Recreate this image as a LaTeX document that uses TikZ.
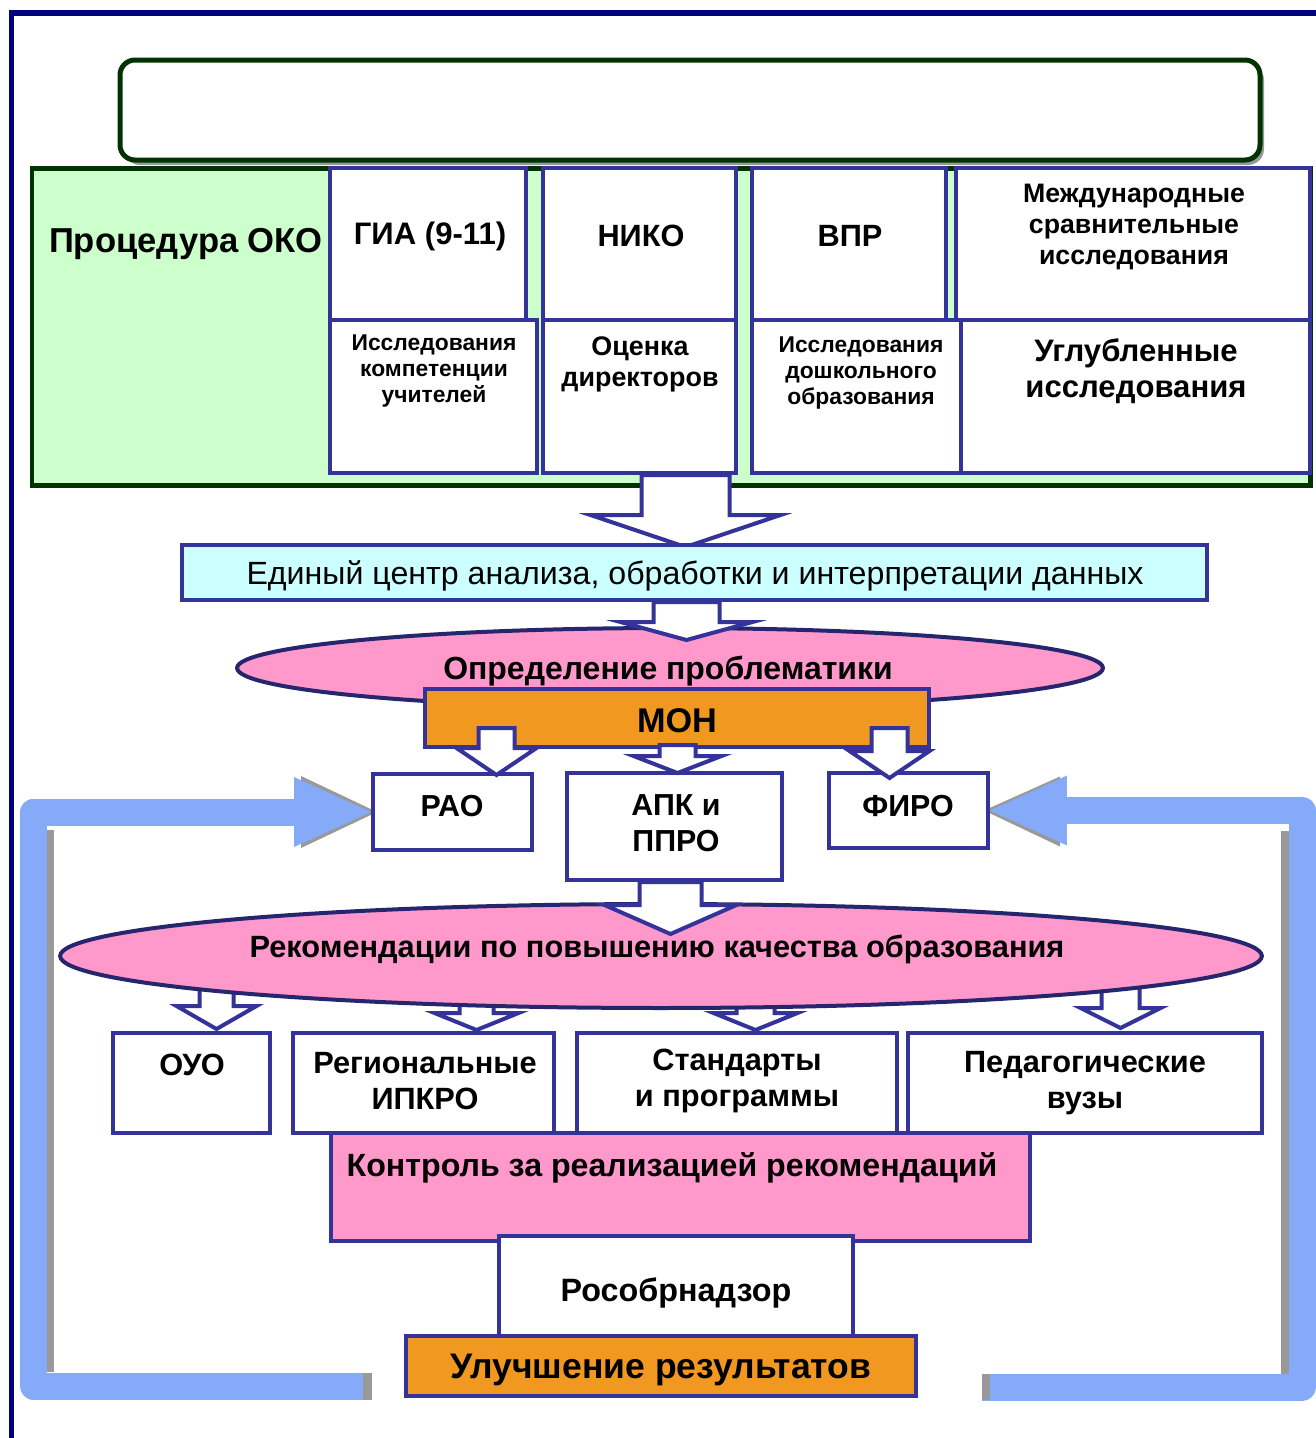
\documentclass[tikz,border=0pt]{standalone}
\usepackage{fontspec}
\setmainfont{Liberation Sans}
\usetikzlibrary{positioning,calc,fit,shapes.geometric,arrows.meta,backgrounds}

\definecolor{frameblue}{RGB}{0,0,128}
\definecolor{boxblue}{RGB}{51,51,153}
\definecolor{ovalblue}{RGB}{38,38,110}
\definecolor{okogreen}{RGB}{204,255,204}
\definecolor{darkgreen}{RGB}{0,51,0}
\definecolor{centercyan}{RGB}{204,255,255}
\definecolor{rosepink}{RGB}{255,153,204}
\definecolor{monorange}{RGB}{240,152,32}
\definecolor{loopblue}{RGB}{133,170,247}
\definecolor{shadegray}{RGB}{153,153,153}

% font size and line spacing in pt
\newcommand\fsz[2]{\fontsize{#1pt}{#2pt}\selectfont}

% hollow block arrow pointing down: from, tip, shaft half width, head half width, head length
\newcommand\blockdown[5]{%
  \path #1 coordinate (ba-from) #2 coordinate (ba-tip);
  \draw[blockarrow] ($(ba-tip |- ba-from)+(-#3,0)$) -- ($(ba-tip)+(-#3,-#5)$)
    -- ($(ba-tip)+(-#4,-#5)$) -- (ba-tip) -- ($(ba-tip)+(#4,-#5)$)
    -- ($(ba-tip)+(#3,-#5)$) -- ($(ba-tip |- ba-from)+(#3,0)$) -- cycle;}

\begin{document}
\begin{tikzpicture}[x=0.02cm, y=-0.02cm,
    box/.style={draw=boxblue, line width=0.08cm, fill=white, inner sep=0pt},
    lbl/.style={align=center, inner sep=0pt, font=\bfseries},
    oval/.style={ellipse, draw=ovalblue, line width=0.08cm, fill=rosepink, inner sep=0pt},
    blockarrow/.style={draw=boxblue, line width=0.08cm, fill=white, line join=miter},
    feedback/.style={draw=loopblue, line width=0.54cm, line join=round,
        -{Triangle[length=1.54cm, width=1.4cm, line width=0pt]}}]
    \useasboundingbox (0, 0) rectangle (1316, 1438);

    % frame
    \draw[frameblue, line width=0.11cm] (11.5, 1438) -- (11.5, 13) -- (1316, 13);

    % empty title bar
    \fill[shadegray, rounded corners=0.32cm] (124, 64) rectangle (1264, 165);
    \node[draw=darkgreen, fill=white, line width=0.1cm, rounded corners=0.3cm,
        inner sep=0pt, fit={(120, 60) (1260, 160)}] (title) {};

    % procedures
    \node[draw=darkgreen, fill=okogreen, line width=0.1cm, inner sep=0pt,
        fit={(32, 168) (1310, 485)}] (oko) {};
    \node[lbl, font=\bfseries\fsz{19.7}{22}] (oko-t) at (186, 244) {Процедура ОКО};

    \node[box, fit={(330, 168) (526, 320)}] (gia) {};
    \node[box, fit={(330, 320) (537, 473)}] (komp) {};
    \node[box, fit={(543, 168) (736, 320)}] (niko) {};
    \node[box, fit={(543, 320) (736, 473)}] (dir) {};
    \node[box, fit={(752, 168) (946, 320)}] (vpr) {};
    \node[box, fit={(752, 320) (961, 473)}] (dosh) {};
    \node[box, fit={(956, 168) (1310, 320)}] (mezh) {};
    \node[box, fit={(961, 320) (1310, 473)}] (uglub) {};

    \node[lbl, font=\bfseries\fsz{17.7}{20}] (gia-t) at (430, 236) {ГИА (9-11)};
    \node[lbl, font=\bfseries\fsz{17.5}{20}] (niko-t) at (641, 236) {НИКО};
    \node[lbl, font=\bfseries\fsz{17.5}{20}] (vpr-t) at (850, 236) {ВПР};
    \node[lbl, font=\bfseries\fsz{15.2}{17.6}] (mezh-t) at (1134, 227)
        {Международные\\сравнительные\\исследования};
    \node[lbl, font=\bfseries\fsz{13}{14.8}] (komp-t) at (434, 371)
        {Исследования\\компетенции\\учителей};
    \node[lbl, font=\bfseries\fsz{15.3}{17.6}] (dir-t) at (640, 364) {Оценка\\директоров};
    \node[lbl, font=\bfseries\fsz{13}{14.8}] (dosh-t) at (861, 373)
        {Исследования\\дошкольного\\образования};
    \node[lbl, font=\bfseries\fsz{17.7}{20.4}] (uglub-t) at (1136, 371)
        {Углубленные\\исследования};

    \blockdown{(dir.south)}{($(dir.south)+(46, 72)$)}{44}{95}{32}

    % data centre
    \node[box, fill=centercyan, fit={(182, 545) (1207, 600)}] (edin) {};
    \node[lbl, font=\fsz{18.3}{21}] (edin-t) at (695, 576)
        {Единый центр анализа, обработки и интерпретации данных};

    % problems
    \node[oval, minimum width=17.32cm, minimum height=1.6cm] (probl) at (670, 668) {};
    \node[lbl, font=\bfseries\fsz{18.2}{21}] (probl-t) at (668, 671) {Определение проблематики};
    \blockdown{(edin.south)}{($(edin.south)+(-8, 38)$)}{33}{66}{18}

    \node[box, fill=monorange, fit={(425, 689) (929, 747)}] (mon) {};
    \node[lbl, font=\bfseries\fsz{19.5}{22}] (mon-t) at (677, 721) {МОН};

    \node[box, fit={(373, 774) (532, 850)}] (rao) {};
    \node[box, fit={(567, 773) (782, 880)}] (apk) {};
    \node[box, fit={(829, 773) (988, 848)}] (firo) {};
    \node[lbl, font=\bfseries\fsz{17.3}{20.4}] (rao-t) at (452, 806) {РАО};
    \node[lbl, font=\bfseries\fsz{17.3}{20.4}] (apk-t) at (676, 823) {АПК и\\ППРО};
    \node[lbl, font=\bfseries\fsz{17.3}{20.4}] (firo-t) at (908, 806) {ФИРО};

    \blockdown{($(mon.south)+(0, -21)$)}{($(rao.north)+(44, 3)$)}{18}{40}{27}
    \blockdown{($(mon.south)+(0, -4)$)}{($(apk.north)+(3, 2)$)}{18}{44}{17}
    \blockdown{($(mon.south)+(0, -21)$)}{($(firo.north)+(-19, 7)$)}{18}{40}{27}

    % recommendations
    \blockdown{(0, 975)}{($(rao.north)+(-236, 257)$)}{17}{40}{23}
    \blockdown{(0, 995)}{($(rao.north)+(24, 258)$)}{17}{42}{17}
    \blockdown{(0, 995)}{($(apk.north)+(81, 259)$)}{19}{42}{17}
    \blockdown{(0, 975)}{($(firo.north)+(212, 257)$)}{19}{40}{20}

    \node[oval, minimum width=24.04cm, minimum height=2.08cm] (rec) at (661, 956) {};
    \node[lbl, font=\bfseries\fsz{17.5}{20}] (rec-t) at (657, 949)
        {Рекомендации по повышению качества образования};
    \blockdown{(apk.south)}{($(apk.south)+(-4, 52)$)}{31}{66}{29}

    \node[box, fit={(113, 1033) (270, 1133)}] (ouo) {};
    \node[box, fit={(293, 1033) (554, 1133)}] (reg) {};
    \node[box, fit={(577, 1033) (897, 1133)}] (std) {};
    \node[box, fit={(908, 1033) (1262, 1133)}] (ped) {};
    \node[lbl, font=\bfseries\fsz{17.5}{20.4}] (ouo-t) at (192, 1065) {ОУО};
    \node[lbl, font=\bfseries\fsz{17.5}{20.4}] (reg-t) at (425, 1081) {Региональные\\ИПКРО};
    \node[lbl, font=\bfseries\fsz{17.5}{20.4}] (std-t) at (737, 1081) {Стандарты\\и программы};
    \node[lbl, font=\bfseries\fsz{17.5}{20.4}] (ped-t) at (1085, 1083) {Педагогические\\вузы};

    % control
    \node[box, fill=rosepink, fit={(331, 1133) (1030, 1241)}] (kontr) {};
    \node[lbl, font=\bfseries\fsz{18.3}{21}] (kontr-t) at (672, 1168)
        {Контроль за реализацией рекомендаций};
    \node[box, fit={(499, 1236) (853, 1336)}] (rosobr) {};
    \node[lbl, font=\bfseries\fsz{18.4}{21}] (rosobr-t) at (676, 1293) {Рособрнадзор};
    \node[box, fill=monorange, fit={(406, 1336) (916, 1396)}] (uluch) {};
    \node[lbl, font=\bfseries\fsz{20.2}{23}] (uluch-t) at (661, 1370) {Улучшение результатов};

    % feedback loops
    \begin{pgfonlayer}{background}
        \fill[shadegray] ($(rao.west)+(-70, -36)$) -- ($(rao.west)+(6, 0)$)
            -- ($(rao.west)+(-70, 36)$) -- cycle;
        \fill[shadegray] ($(firo.east)+(70, -34)$) -- ($(firo.east)+(-6, 0)$)
            -- ($(firo.east)+(70, 36)$) -- cycle;
    \end{pgfonlayer}

    \coordinate (lstart) at (372, 1386);
    \coordinate (lcorner) at (33.5, 1386);
    \draw[feedback] (lstart) -- (lcorner) -- (lcorner |- rao.west) -- (rao.west);
    \fill[shadegray] (47, 830) rectangle (54, 1372);
    \fill[shadegray] (363, 1373) rectangle (372, 1400);

    \coordinate (rstart) at (982, 1387);
    \coordinate (rcorner) at (1302, 1387);
    \draw[feedback] (rstart) -- (rcorner) -- (rcorner |- firo.east) -- (firo.east);
    \fill[shadegray] (1281, 831) rectangle (1289, 1374);
    \fill[shadegray] (982, 1374) rectangle (990, 1400);
\end{tikzpicture}
\end{document}
